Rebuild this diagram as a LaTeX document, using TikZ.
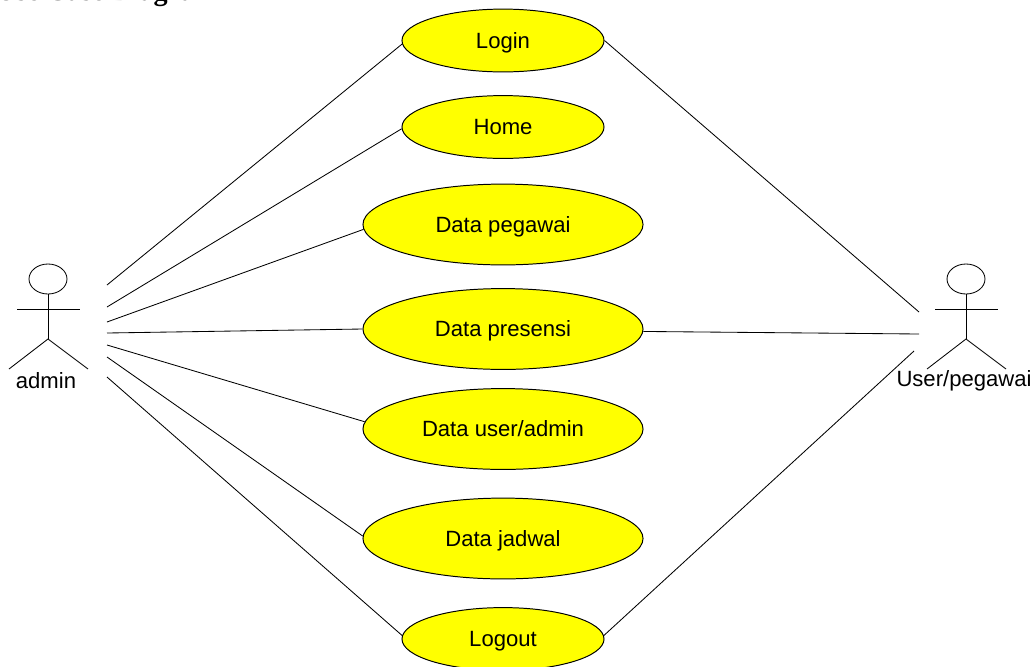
\documentclass[tikz,border=0pt]{standalone}
\usepackage{fontspec}
\setmainfont{Liberation Sans}
\newfontfamily\titlefont{Liberation Serif}
\usetikzlibrary{shapes.geometric}
\definecolor{caseyellow}{RGB}{255,255,0}
\tikzset{
	usecase/.style={ellipse, draw, fill=caseyellow, line width=.7pt, inner sep=0pt, text height=12pt, text depth=1.2pt, font=\fontsize{15.7}{18}\selectfont},
	small/.style={usecase, minimum width=5.05cm, minimum height=1.57cm},
	big/.style={usecase, minimum width=7cm, minimum height=2.02cm},
	actorlabel/.style={inner sep=0pt, font=\fontsize{15.7}{18}\selectfont},
	link/.style={line width=.6pt},
}
\begin{document}
\begin{tikzpicture}[x=.025cm, y=-.025cm]
	\useasboundingbox (0,0) rectangle (1032,666);
	
	\node[anchor=base east, inner sep=0pt, font=\titlefont\bfseries\fontsize{20}{22}\selectfont] (title) at (218,0) {Use Case Diagram};
	
	\node[small] (login) at (503,40.5) {Login};
	\node[small] (home) at (503,127) {Home};
	\node[big] (pegawai) at (503,224.5) {Data pegawai};
	\node[big] (presensi) at (503,329) {Data presensi};
	\node[big] (useradmin) at (503,429) {Data user/admin};
	\node[big] (jadwal) at (503,538.5) {Data jadwal};
	\node[small] (logout) at (503,639) {Logout};
	
	% actors
	\foreach \a/\x/\xtext/\xlabel in {admin/48/admin/46, user/966/User\slash pegawai/964} {
		\draw[line width=.6pt] (\x,279) ellipse [x radius=19, y radius=15];
		\draw[line width=.6pt] (\x,294) -- (\x,339);
		\draw[line width=.6pt] (\x-31,309) -- (\x+32,309);
		\draw[line width=.6pt] (\x-39,369) -- (\x,339) -- (\x+40,369);
		\node[actorlabel] (\a) at (\xlabel,381) {\xtext};
	}
	
	\foreach \c/\y in {a/285, b/307, c/322, d/333, e/345, f/357, g/377}
	\coordinate (admin\c) at (107,\y);
	
	\coordinate (usera) at (919,312);
	\coordinate (userb) at (919,334);
	\coordinate (userc) at (914,351);
	
	\draw[link] (admina) -- (login.182.5);
	\draw[link] (adminb) -- (home.181.7);
	\draw[link] (adminc) -- (pegawai.182.7);
	\draw[link] (admind) -- (presensi.180.8);
	\draw[link] (admine) -- (useradmin.177.5);
	\draw[link] (adminf) -- (jadwal.179);
	\draw[link] (adming) -- (logout.178);
	
	\draw[link] (login.east) -- (usera);
	\draw[link] (presensi.359.6) -- (userb);
	\draw[link] (logout.2.8) -- (userc);
\end{tikzpicture}
\end{document}
